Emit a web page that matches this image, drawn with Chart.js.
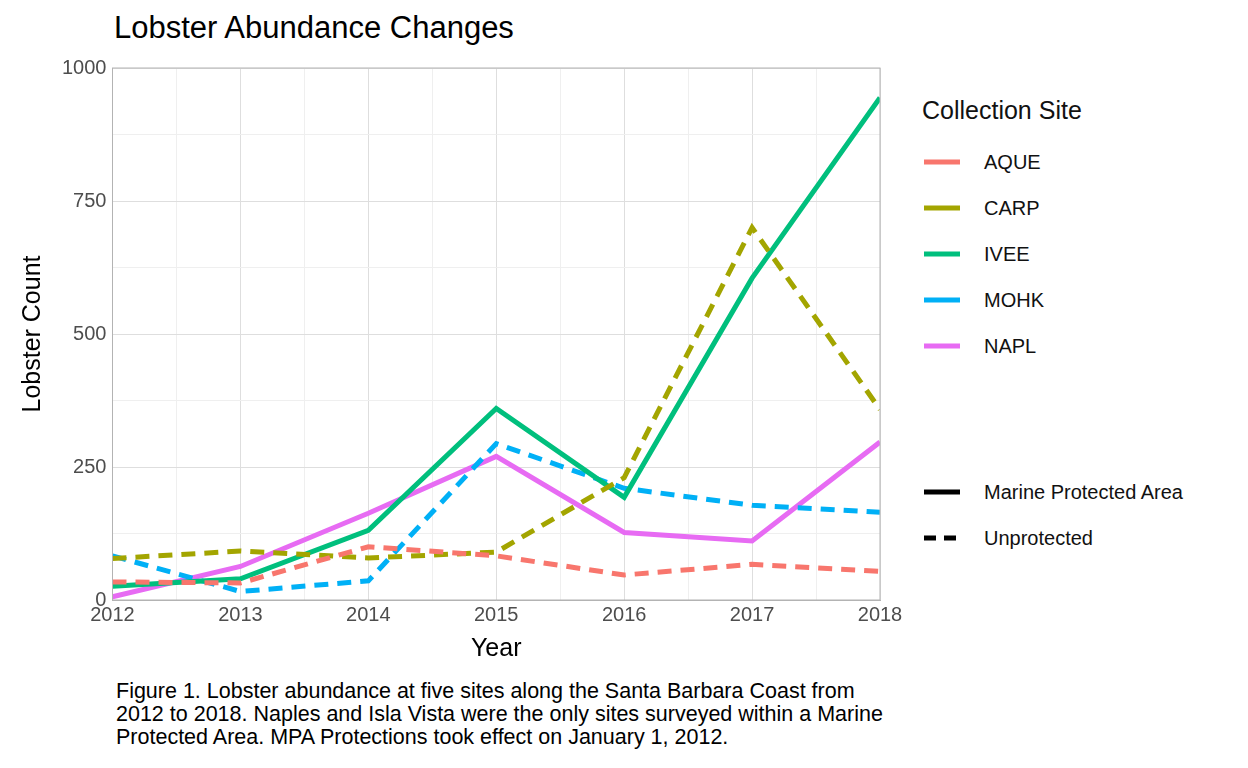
<!DOCTYPE html>
<html><head><meta charset="utf-8">
<script src="https://cdn.jsdelivr.net/npm/chart.js@4"></script>
<style>
body{margin:0;width:1248px;height:768px;background:#fff;font-family:"Liberation Sans",Arial,sans-serif;position:relative;overflow:hidden}
#title{position:absolute;left:114px;top:10px;font-size:31px;color:#000}
#wrap{position:absolute;left:0;top:50px;width:910px;height:620px}
#legend{position:absolute;left:922px;top:96px;font-size:20px;color:#111}
#legend .h{font-size:25px;margin-bottom:14px}
.item{display:flex;align-items:center;height:46px}
.item svg{margin-right:22px}
#caption{position:absolute;left:116px;top:680px;font-size:21.5px;line-height:23px;color:#000}
</style></head><body>
<div id="title">Lobster Abundance Changes</div>
<div id="wrap"><canvas id="c"></canvas></div>
<div id="legend"></div>
<div id="caption">Figure 1. Lobster abundance at five sites along the Santa Barbara Coast from<br>2012 to 2018. Naples and Isla Vista were the only sites surveyed within a Marine<br>Protected Area. MPA Protections took effect on January 1, 2012.</div>
<script>
const years = [2012,2013,2014,2015,2016,2017,2018];
const sites = ["AQUE","CARP","IVEE","MOHK","NAPL"];
const colors = ["#F8766D","#A3A500","#00BF7D","#00B0F6","#E76BF3"];
const protectedSites = ["IVEE","NAPL"];
const aque = [34,32,100,83,47,67,54];
const carp = [78,92,79,90,230,700,358];
const ivee = [26,40,131,360,193,605,944];
const mohk = [83,16,36,294,210,178,165];
const napl = [6,63,163,270,127,111,297];
const yTicks = [0,250,500,750,1000];
const seriesVals = [aque,carp,ivee,mohk,napl];

const datasets = sites.map((s,i)=>({
  label:s,
  data: years.map((y,j)=>({x:y,y:seriesVals[i][j]})),
  borderColor:colors[i], borderWidth:5, pointRadius:0, fill:false, tension:0,
  borderDash: protectedSites.includes(s) ? [] : [14,9]
}));

new Chart(document.getElementById("c"),{
  type:"line",
  data:{datasets},
  options:{
    responsive:true, maintainAspectRatio:false, animation:false,
    layout:{padding:{top:4,right:30,left:14,bottom:2}},
    plugins:{legend:{display:false},tooltip:{enabled:false}},
    scales:{
      x:{type:"linear",min:2012,max:2018,
        ticks:{stepSize:0.5,color:"#4d4d4d",font:{size:20,family:"Liberation Sans"},autoSkip:false,maxRotation:0,
          callback:v=>Number.isInteger(v)?String(v):""},
        grid:{color:c=>Number.isInteger(c.tick.value)?"#dedede":"#efefef",lineWidth:1,drawTicks:false},
        border:{color:"#b3b3b3"},
        title:{display:true,text:"Year",color:"#000",font:{size:25,family:"Liberation Sans"},padding:{top:4}}},
      y:{min:0,max:1000,
        afterBuildTicks:ax=>{ax.ticks=[0,125,250,375,500,625,750,875,1000].map(v=>({value:v}));},
        ticks:{color:"#4d4d4d",font:{size:20,family:"Liberation Sans"},padding:6,
          callback:v=>yTicks.includes(v)?String(v):""},
        grid:{color:c=>yTicks.includes(c.tick.value)?"#dedede":"#efefef",drawTicks:false},
        border:{color:"#b3b3b3"},
        title:{display:true,text:"Lobster Count",color:"#000",font:{size:25,family:"Liberation Sans"},padding:{bottom:8}}}
    }
  },
  plugins:[{id:"box",afterDraw(ch){const a=ch.chartArea,x=ch.ctx;x.save();x.strokeStyle="#b3b3b3";x.lineWidth=1;x.strokeRect(a.left,a.top,a.width,a.height);x.restore();}}]
});

function line(color,dash){
  return `<svg width="40" height="10"><line x1="2" y1="5" x2="38" y2="5" stroke="${color}" stroke-width="5" ${dash?'stroke-dasharray="12,8"':''}/></svg>`;
}
let html='<div class="h">Collection Site</div>';
sites.forEach((s,i)=>{html+=`<div class="item">${line(colors[i],false)}${s}</div>`;});
html+='<div style="height:100px"></div>';
html+=`<div class="item">${line("#000",false)}Marine Protected Area</div>`;
html+=`<div class="item">${line("#000",true)}Unprotected</div>`;
document.getElementById("legend").innerHTML=html;
</script>
</body></html>
